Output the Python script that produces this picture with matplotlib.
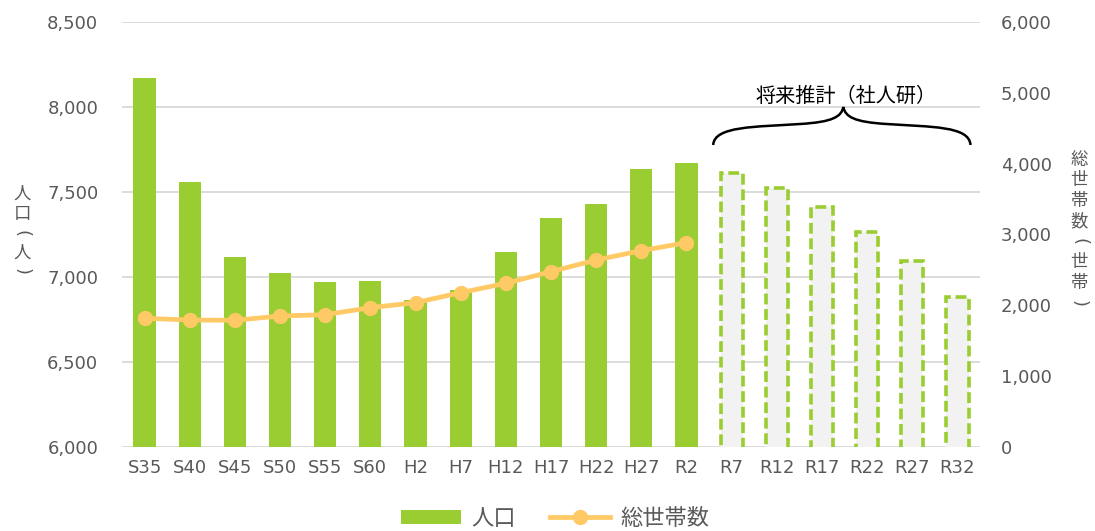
import matplotlib
matplotlib.use('Agg')
import matplotlib.pyplot as plt
from matplotlib.path import Path
from matplotlib.patches import PathPatch
import numpy as np

plt.rcParams['font.family'] = ['DejaVu Sans', 'Noto Sans CJK JP']

# data
years = ['S35', 'S40', 'S45', 'S50', 'S55', 'S60', 'H2', 'H7', 'H12', 'H17',
         'H22', 'H27', 'R2', 'R7', 'R12', 'R17', 'R22', 'R27', 'R32']
pop_actual = [8171, 7559, 7116, 7022, 6971, 6975, 6862, 6924, 7147, 7347,
              7429, 7635, 7671]
pop_proj = [7610, 7521, 7413, 7262, 7092, 6884]
households = [1817, 1793, 1789, 1849, 1868, 1967, 2038, 2179, 2311, 2476,
              2640, 2772, 2885]

GREEN = '#9ACD32'
YELLOW = '#FFC966'
GRAY = '#595959'

fig = plt.figure(figsize=(10.95, 5.31), dpi=100)
ax = fig.add_axes([0.1114, 0.1582, 0.7836, 0.8004])
ax2 = ax.twinx()

x = np.arange(len(years))
n_act = len(pop_actual)
ax.bar(x[:n_act], pop_actual, width=0.49, color=GREEN, zorder=2, label='人口')
ax.bar(x[n_act:], pop_proj, width=0.49, color='#F2F2F2', edgecolor=GREEN,
       linewidth=2.6, linestyle=(0, (3, 1.3)), zorder=2)

ax2.plot(x[:n_act], households, color=YELLOW, lw=3.4, marker='o', ms=10,
         label='総世帯数', zorder=3)

ax.set_xlim(-0.5, len(years) - 0.5)
ax.set_ylim(6000, 8500)
ax.set_yticks(np.arange(6000, 8501, 500))
ax.set_yticklabels(['{:,}'.format(v) for v in range(6000, 8501, 500)])
ax2.set_ylim(0, 6000)
ax2.set_yticks(np.arange(0, 6001, 1000))
ax2.set_yticklabels(['{:,}'.format(v) for v in range(0, 6001, 1000)])
ax.set_xticks(x)
ax.set_xticklabels(years)

ax.grid(axis='y', color='#D9D9D9', lw=1.3, zorder=0)
ax.set_axisbelow(True)
for a in (ax, ax2):
    for s in a.spines.values():
        s.set_visible(False)
ax.tick_params(axis='y', length=0, pad=17, labelsize=13, labelcolor=GRAY)
ax.tick_params(axis='x', length=0, pad=9, labelsize=13, labelcolor=GRAY)
ax2.tick_params(axis='y', length=0, pad=15, labelsize=13, labelcolor=GRAY)


# stacked vertical axis titles, one character at a time
def vertical_label(chars, xpix, ytop, step=19.5):
    for i, ch in enumerate(chars):
        if ch in '()':
            fig.text(xpix / 1095, 1 - (ytop + i * step) / 531, ch,
                     family='DejaVu Sans', fontsize=13, color=GRAY,
                     ha='center', va='center', rotation=-90)
        else:
            fig.text(xpix / 1095, 1 - (ytop + i * step) / 531, ch,
                     family='Noto Sans CJK JP', fontsize=12.5, color=GRAY,
                     ha='center', va='center')


vertical_label('人口(人)', 22, 194)
vertical_label('総世帯数(世帯)', 1079, 160, step=20.5)


# brace over projection
def px(xp):
    return (xp - 145) / 45.11


def py(yp):
    return 6000 + (447 - yp) / 0.17


pts = [(713, 145), (714, 126), (755, 127), (800, 124),
       (832, 122), (841, 117), (843, 107),
       (845, 117), (854, 122), (886, 124),
       (931, 127), (969, 126), (970, 145)]
codes = [Path.MOVETO] + [Path.CURVE4] * 12
brace = Path([(px(a), py(b)) for a, b in pts], codes)
ax.add_patch(PathPatch(brace, facecolor='none', edgecolor='black', lw=1.8,
                       zorder=4, clip_on=False))
ax.text(px(846), py(96), '将来推計（社人研）', family='Noto Sans CJK JP',
        fontsize=14.5, ha='center', va='center', color='black')

h1, l1 = ax.get_legend_handles_labels()
h2, l2 = ax2.get_legend_handles_labels()
leg = fig.legend(h1 + h2, l1 + l2, loc='center', bbox_to_anchor=(0.507, 0.024),
                 ncol=2, frameon=False, handlelength=2.7,
                 handleheight=0.6, columnspacing=1.5, handletextpad=0.5,
                 prop={'family': 'Noto Sans CJK JP', 'size': 16})
for t in leg.get_texts():
    t.set_color(GRAY)

fig.savefig('out.png', dpi=100)
